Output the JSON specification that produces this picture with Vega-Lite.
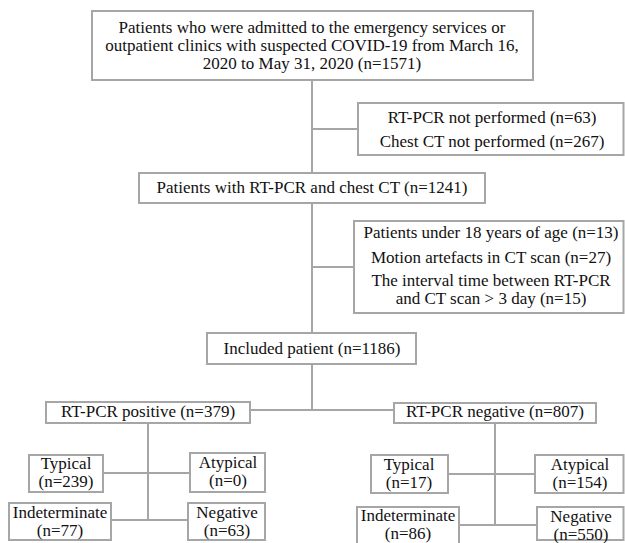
{
  "$schema": "https://vega.github.io/schema/vega-lite/v6.json",
  "width": 625,
  "height": 543,
  "padding": 0,
  "autosize": "none",
  "background": "white",
  "config": {"view": {"stroke": null}},
  "datasets": {
    "lines": [
      {"x1": 312, "x2": 312, "y1": 80, "y2": 410},
      {"x1": 312, "x2": 358, "y1": 129, "y2": 129},
      {"x1": 312, "x2": 354, "y1": 267, "y2": 267},
      {"x1": 250, "x2": 394, "y1": 410, "y2": 410},
      {"x1": 148, "x2": 148, "y1": 423, "y2": 520},
      {"x1": 103, "x2": 190, "y1": 473, "y2": 473},
      {"x1": 111, "x2": 188, "y1": 520, "y2": 520},
      {"x1": 495, "x2": 495, "y1": 423, "y2": 525},
      {"x1": 448, "x2": 535, "y1": 474, "y2": 474},
      {"x1": 459, "x2": 537, "y1": 525, "y2": 525}
    ],
    "boxes": [
      {"x1": 92, "x2": 533, "y1": 11, "y2": 80},
      {"x1": 358, "x2": 623.5, "y1": 103, "y2": 155},
      {"x1": 139, "x2": 485, "y1": 173, "y2": 203},
      {"x1": 354, "x2": 623.5, "y1": 221, "y2": 313},
      {"x1": 207, "x2": 416, "y1": 333, "y2": 364},
      {"x1": 46, "x2": 250, "y1": 402, "y2": 423},
      {"x1": 394, "x2": 596, "y1": 403, "y2": 423},
      {"x1": 29, "x2": 103, "y1": 455, "y2": 492},
      {"x1": 190, "x2": 265, "y1": 453, "y2": 492},
      {"x1": 9, "x2": 111, "y1": 503, "y2": 540},
      {"x1": 188, "x2": 265, "y1": 503, "y2": 540},
      {"x1": 371, "x2": 448, "y1": 455, "y2": 493},
      {"x1": 535, "x2": 623.5, "y1": 455, "y2": 493},
      {"x1": 357, "x2": 459, "y1": 507, "y2": 545},
      {"x1": 537, "x2": 623.5, "y1": 507, "y2": 540}
    ],
    "labels": [
      {"x": 312, "y": 28, "t": "Patients who were admitted to the emergency services or"},
      {"x": 312, "y": 46, "t": "outpatient clinics with suspected COVID-19 from March 16,"},
      {"x": 312, "y": 64, "t": "2020 to May 31, 2020 (n=1571)"},
      {"x": 492, "y": 118, "t": "RT-PCR not performed (n=63)"},
      {"x": 492, "y": 142, "t": "Chest CT not performed (n=267)"},
      {"x": 312, "y": 188, "t": "Patients with RT-PCR and chest CT (n=1241)"},
      {"x": 491, "y": 233, "t": "Patients under 18 years of age (n=13)"},
      {"x": 491, "y": 258, "t": "Motion artefacts in CT scan (n=27)"},
      {"x": 491, "y": 281, "t": "The interval time between RT-PCR"},
      {"x": 491, "y": 299, "t": "and CT scan > 3 day (n=15)"},
      {"x": 312, "y": 349, "t": "Included patient (n=1186)"},
      {"x": 148, "y": 412, "t": "RT-PCR positive (n=379)"},
      {"x": 495, "y": 412, "t": "RT-PCR negative (n=807)"},
      {"x": 66, "y": 464, "t": "Typical"},
      {"x": 66, "y": 482, "t": "(n=239)"},
      {"x": 228, "y": 463, "t": "Atypical"},
      {"x": 228, "y": 481, "t": "(n=0)"},
      {"x": 60, "y": 513, "t": "Indeterminate"},
      {"x": 60, "y": 531, "t": "(n=77)"},
      {"x": 227, "y": 513, "t": "Negative"},
      {"x": 227, "y": 531, "t": "(n=63)"},
      {"x": 409, "y": 465, "t": "Typical"},
      {"x": 409, "y": 483, "t": "(n=17)"},
      {"x": 580, "y": 465, "t": "Atypical"},
      {"x": 580, "y": 483, "t": "(n=154)"},
      {"x": 408, "y": 516, "t": "Indeterminate"},
      {"x": 408, "y": 534, "t": "(n=86)"},
      {"x": 581, "y": 517, "t": "Negative"},
      {"x": 581, "y": 535, "t": "(n=550)"}
    ]
  },
  "layer": [
    {
      "data": {"name": "lines"},
      "mark": {"type": "rule", "color": "#a6a6a6", "strokeWidth": 2},
      "encoding": {
        "x": {"field": "x1", "type": "quantitative", "scale": {"domain": [0, 625], "nice": false, "zero": false}, "axis": null},
        "x2": {"field": "x2"},
        "y": {"field": "y1", "type": "quantitative", "scale": {"domain": [0, 543], "nice": false, "zero": false, "reverse": true}, "axis": null},
        "y2": {"field": "y2"}
      }
    },
    {
      "data": {"name": "boxes"},
      "mark": {"type": "rect", "fill": "white", "stroke": "#a6a6a6", "strokeWidth": 2},
      "encoding": {
        "x": {"field": "x1", "type": "quantitative", "scale": {"domain": [0, 625], "nice": false, "zero": false}, "axis": null},
        "x2": {"field": "x2"},
        "y": {"field": "y1", "type": "quantitative", "scale": {"domain": [0, 543], "nice": false, "zero": false, "reverse": true}, "axis": null},
        "y2": {"field": "y2"}
      }
    },
    {
      "data": {"name": "labels"},
      "mark": {"type": "text", "font": "Liberation Serif", "fontSize": 17, "color": "#111111", "align": "center", "baseline": "middle"},
      "encoding": {
        "x": {"field": "x", "type": "quantitative", "scale": {"domain": [0, 625], "nice": false, "zero": false}, "axis": null},
        "y": {"field": "y", "type": "quantitative", "scale": {"domain": [0, 543], "nice": false, "zero": false, "reverse": true}, "axis": null},
        "text": {"field": "t"}
      }
    }
  ]
}
